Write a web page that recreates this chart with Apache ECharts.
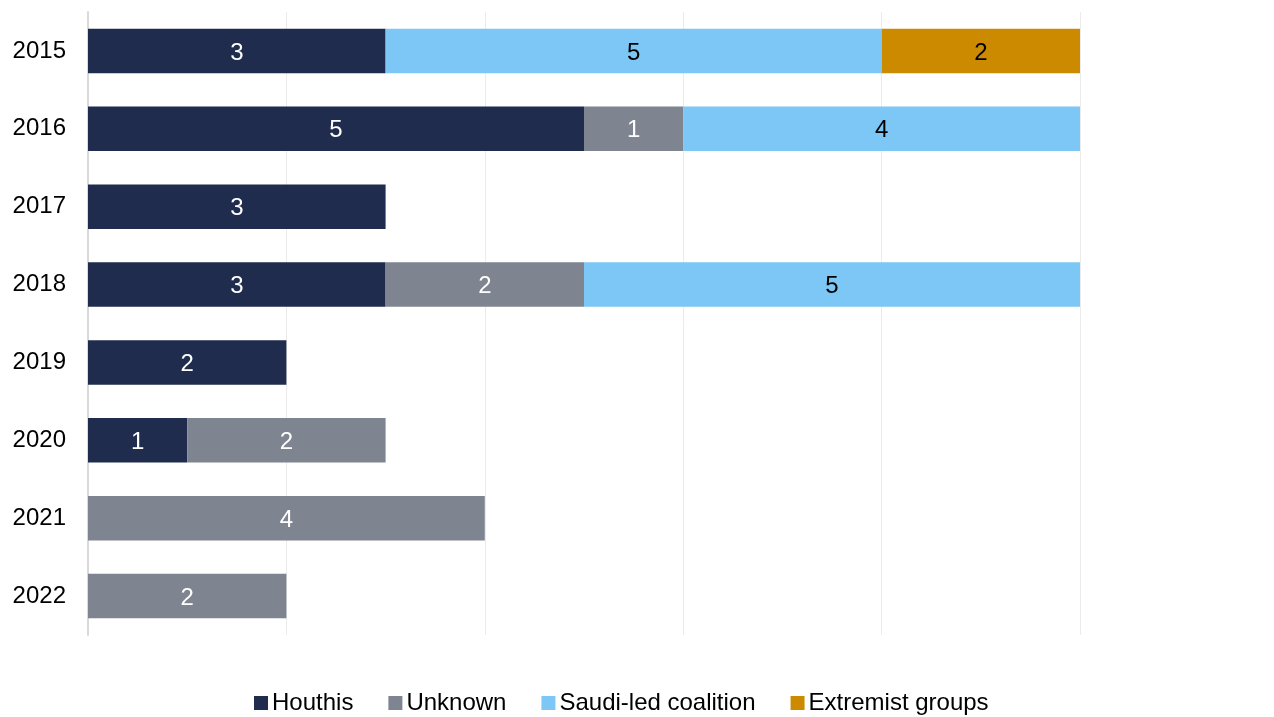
<!DOCTYPE html>
<html><head><meta charset="utf-8">
<script src="https://cdn.jsdelivr.net/npm/echarts@6/dist/echarts.min.js"></script>
<style>html,body{margin:0;padding:0;background:#fff}#c{width:1274px;height:717px}</style>
</head><body><div id="c"></div>
<script>
const years = ['2015','2016','2017','2018','2019','2020','2021','2022'];
const houthis = [3,5,3,3,2,1,null,null];
const unknown = [null,1,null,2,null,2,4,2];
const saudi = [5,4,null,5,null,null,null,null];
const extremist = [2,null,null,null,null,null,null,null];
const seriesNames = ['Houthis','Unknown','Saudi-led coalition','Extremist groups'];
const colors = ['#1f2c4d','#7e8590','#7cc7f5','#cc8a00'];
const labelColors = ['#ffffff','#ffffff','#000000','#000000'];
const values = [houthis, unknown, saudi, extremist];
const FONT = 'Liberation Sans, Arial, sans-serif';
const chart = echarts.init(document.getElementById('c'));
chart.setOption({
  animation:false,
  color: colors,
  grid:{left:88,right:194,top:12,bottom:82,containLabel:false},
  legend:{top:686,left:249,itemWidth:14,itemHeight:14,itemGap:35,icon:'rect',
    textStyle:{fontFamily:FONT,fontSize:24,color:'#000',padding:[0,0,0,-1]}},
  xAxis:{type:'value',min:0,max:10,interval:2,axisLabel:{show:false},
    splitLine:{lineStyle:{color:'#ebebeb',width:1}},axisLine:{show:false},axisTick:{show:false}},
  yAxis:{type:'category',data:years,inverse:true,
    axisLine:{show:true,lineStyle:{color:'#d9d9d9',width:2}},axisTick:{show:false},
    axisLabel:{fontFamily:FONT,fontSize:24,color:'#000',margin:22}},
  series: seriesNames.map((n,i)=>({
    name:n,type:'bar',stack:'t',data:values[i],barCategoryGap:'43%',
    itemStyle:{color:colors[i]},
    label:{show:true,position:'inside',fontFamily:FONT,fontSize:24,color:labelColors[i],offset:[0,2]}
  }))
});
</script></body></html>
